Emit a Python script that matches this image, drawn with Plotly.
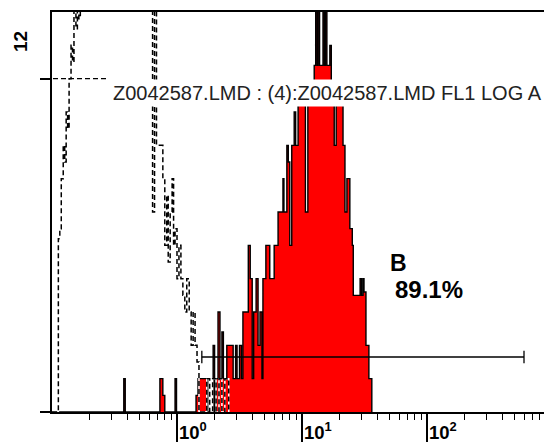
import numpy as np
import plotly.graph_objects as go

# FL1 LOG histogram, 1024 channels spanning four decades (10^-1 .. 10^3).
# Each list gives the first channel of a run and the event count held over that run.
sample_start_ch = [0, 147, 150, 221, 227, 231, 252, 255, 295, 299, 319, 330, 333, 336, 340,
                   344, 348, 351, 358, 371, 376, 379, 384, 388, 391, 402, 406, 410, 413,
                   418, 422, 426, 430, 432, 438, 446, 455, 463, 473, 475, 481, 484, 487,
                   491, 496, 499, 504, 519, 524, 537, 540, 543, 545, 548, 555, 558, 560,
                   563, 569, 572, 578, 582, 596, 600, 604, 610, 615, 617, 631, 634, 637,
                   639, 643, 649, 655]
sample_counts = [0, 1, 0, 1, 0.5, 0, 1, 0, 0.5, 1, 0, 2, 0, 1, 3,
                 1, 2.4, 1, 2, 1, 2, 1, 2, 1, 3, 5, 4, 1, 3,
                 4, 2, 3, 1, 4, 5, 4, 5, 6, 7, 6, 8, 7.5, 5,
                 8, 9, 8, 9.6, 6, 9.6, 10.4, 14, 10.4, 14, 10.4, 14, 10.4, 14,
                 10.4, 11, 9.6, 8, 9.6, 8, 6, 7, 5.5, 5, 3.5, 4, 3.5, 4,
                 3.6, 2, 1, 0]

control_start_ch = [0, 13, 16, 19, 23, 26, 29, 32, 35, 39, 42, 45, 49, 52, 55, 58,
                    201, 206, 210, 214, 227, 231, 235, 238, 242, 246, 249, 252, 256,
                    260, 264, 268, 272, 276, 281, 285, 289, 293, 297, 301, 317, 323,
                    329, 336, 342, 348, 354, 362]
control_counts = [0, 5.2, 5.5, 7, 8, 7.5, 9, 8.5, 10, 11, 10.5, 13, 11.5, 13, 11.8, 20,
                  13, 6, 13, 8, 7, 5, 6.5, 4.5, 6, 7, 5, 5.5, 4,
                  5, 4, 3.5, 3, 4, 3, 2, 3, 2, 1.5, 0, 1, 0,
                  1, 0, 1, 0, 1, 0]

CHANNELS = 1024
DECADES = 4
LOG_MIN = -1

# Region B marker
gate_low, gate_high, gate_level = 1.58, 597.0, 1.65
gate_name, gate_percent = "B", "89.1%"

legend_text = "Z0042587.LMD : (4):Z0042587.LMD FL1 LOG A"
y_axis_label = "12"
decade_labels = ["10<sup>0</sup>", "10<sup>1</sup>", "10<sup>2</sup>"]
decade_exponents = [0, 1, 2]


def ch_to_value(ch):
    return 10 ** (LOG_MIN + np.asarray(ch, dtype=float) * DECADES / CHANNELS)


def step_xy(starts, counts):
    x = list(ch_to_value(starts)) + [float(ch_to_value(starts[-1] + 1))]
    y = list(counts) + [counts[-1]]
    return x, y


sx, sy = step_xy(sample_start_ch, sample_counts)
cx, cy = step_xy(control_start_ch, control_counts)

fig = go.Figure()

fig.add_trace(go.Scatter(
    x=sx, y=sy, mode="lines", line=dict(shape="hv", color="black", width=1.4),
    fill="tozeroy", fillcolor="#ff0000", hoverinfo="skip"))

# control histogram: white underlay so the dash gaps read white over the red fill
fig.add_trace(go.Scatter(
    x=cx, y=cy, mode="lines", line=dict(shape="hv", color="white", width=1.5),
    hoverinfo="skip"))
fig.add_trace(go.Scatter(
    x=cx, y=cy, mode="lines",
    line=dict(shape="hv", color="black", width=1.5, dash="5px,3px"),
    hoverinfo="skip"))

fig.add_trace(go.Scatter(
    x=[gate_low, gate_high], y=[gate_level, gate_level], mode="lines+markers",
    line=dict(color="black", width=1.3),
    marker=dict(symbol="line-ns", size=9, line=dict(color="black", width=1.3)),
    hoverinfo="skip"))

minor_vals = [k * 10.0 ** d for d in range(-1, 3) for k in range(2, 10)]

W, H = 544, 444
L, R, T, B = 52, 0, 12, 32
plot_w = W - L - R
px_per_decade = 125
x_max = LOG_MIN + plot_w / px_per_decade

fig.update_layout(
    width=W, height=H,
    margin=dict(l=L, r=R, t=T, b=B, pad=0),
    paper_bgcolor="white", plot_bgcolor="white",
    showlegend=False,
    font=dict(family="Liberation Sans, Arial, sans-serif", color="black"),
    xaxis=dict(
        type="log", range=[LOG_MIN, x_max],
        showline=True, linecolor="black", linewidth=1.5, mirror=True,
        ticks="outside", tickvals=[1, 10, 100], ticklen=28, tickwidth=1.5,
        tickcolor="black", showticklabels=False, showgrid=False, zeroline=False,
        minor=dict(tickmode="array", tickvals=minor_vals, ticks="outside",
                   ticklen=6, tickwidth=1.3, tickcolor="black", showgrid=False),
    ),
    yaxis=dict(
        range=[0, 12], showline=True, linecolor="black", linewidth=1.5,
        ticks="outside", tickvals=[0, 10], ticklen=10, tickwidth=1.5,
        tickcolor="black", showticklabels=False, showgrid=False, zeroline=False,
    ),
)

def px_to_paper_x(px):
    return (px - L) / plot_w

def py_to_paper_y(py):
    return (H - B - py) / (H - T - B)

# legend sample line for the control trace
fig.add_shape(type="line", xref="paper", yref="y",
              x0=px_to_paper_x(53), x1=px_to_paper_x(107), y0=10, y1=10,
              line=dict(color="black", width=1.4, dash="5px,3px"))

fig.add_annotation(
    text=legend_text, xref="paper", yref="paper",
    x=px_to_paper_x(110), y=py_to_paper_y(92.5), xanchor="left", yanchor="middle",
    showarrow=False, bgcolor="white", borderpad=2,
    font=dict(size=20, color="#222222", family="Liberation Sans, Arial, sans-serif"))

fig.add_annotation(
    text="<b>%s</b>" % y_axis_label, xref="paper", yref="paper",
    x=px_to_paper_x(21), y=py_to_paper_y(42), textangle=-90,
    xanchor="center", yanchor="middle", showarrow=False,
    font=dict(size=19, color="black"))

for e, lab in zip(decade_exponents, decade_labels):
    fig.add_annotation(
        text="<b>%s</b>" % lab, xref="x", yref="paper", x=e, y=py_to_paper_y(417),
        xanchor="left", yanchor="top", xshift=0, showarrow=False,
        font=dict(size=18.5, color="black"))

fig.add_annotation(
    text="<b>%s</b>" % gate_name, xref="x", yref="y", x=np.log10(48.7), y=4.47,
    xanchor="left", yanchor="middle", showarrow=False,
    font=dict(size=23, color="black"))
fig.add_annotation(
    text="<b>%s</b>" % gate_percent, xref="x", yref="y", x=np.log10(53.5), y=3.69,
    xanchor="left", yanchor="middle", showarrow=False,
    font=dict(size=24, color="black"))

fig.write_html("out.html")
